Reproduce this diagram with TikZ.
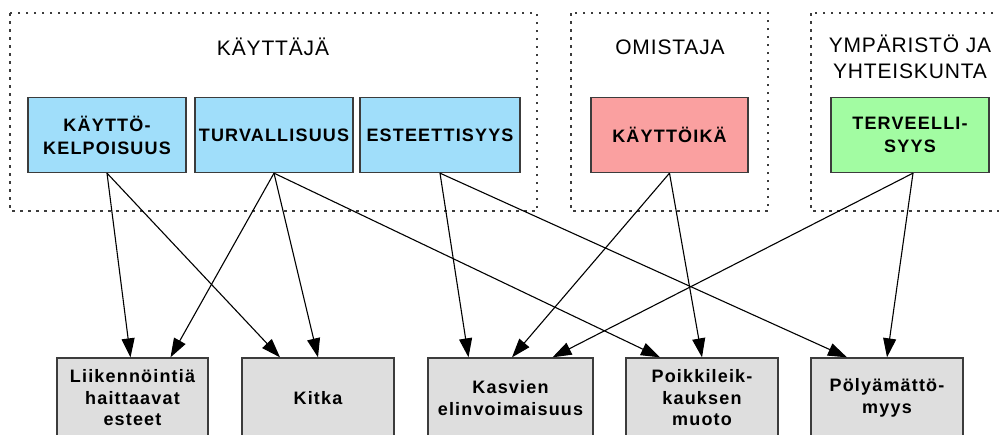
\documentclass[tikz,border=0pt]{standalone}
\usepackage{fontspec}
\setmainfont{Liberation Sans}
\newfontfamily\titlefont[LetterSpace=4]{Liberation Sans}
\newfontfamily\labelfont[LetterSpace=6.5]{Liberation Sans}
\usetikzlibrary{arrows.meta}
\definecolor{userblue}{RGB}{160,222,250}
\definecolor{ownerred}{RGB}{250,160,160}
\definecolor{envgreen}{RGB}{162,252,162}
\definecolor{boxgrey}{RGB}{222,222,222}
\definecolor{edgegrey}{RGB}{60,60,60}
\begin{document}
\begin{tikzpicture}[x=1pt,y=-1pt,
  grp/.style={draw=edgegrey, line width=1.2pt, dash pattern=on 2.5pt off 5.5pt},
  grptitle/.style={font=\titlefont\fontsize{21}{26}\selectfont, align=center, inner sep=0pt},
  topbox/.style={draw=edgegrey, line width=1.3pt, minimum width=158pt, minimum height=75pt,
    align=center, inner sep=0pt, font=\labelfont\fontsize{18}{23}\selectfont\bfseries},
  botbox/.style={draw=edgegrey, fill=boxgrey, line width=1.3pt, minimum width=152pt, minimum height=80pt,
    align=center, inner sep=0pt, font=\labelfont\fontsize{18}{21.5}\selectfont\bfseries},
  link/.style={-{Triangle[length=19pt,width=13pt]}, line width=1.1pt, draw=black}]
  \useasboundingbox (0,0) rectangle (999,434);
  \fill[white] (0,0) rectangle (999,434);

  % stakeholder groups
  \draw[grp] (10,13) rectangle (537,211);
  \draw[grp] (571,13) rectangle (768,211);
  \draw[grp] (811,13) rectangle (1012,211);
  \node[grptitle] (tUser) at (273,47) {KÄYTTÄJÄ};
  \node[grptitle] (tOwner) at (670,47) {OMISTAJA};
  \node[grptitle] (tEnv) at (910,57) {YMPÄRISTÖ JA\\YHTEISKUNTA};

  % requirements
  \node[topbox, fill=userblue] (k1) at (107,135) {KÄYTTÖ-\\KELPOISUUS};
  \node[topbox, fill=userblue] (k2) at (274,135) {TURVALLISUUS};
  \node[topbox, fill=userblue, minimum width=160pt] (k3) at (440,135) {ESTEETTISYYS};
  \node[topbox, fill=ownerred, minimum width=157pt] (o1) at (669.5,135) {KÄYTTÖIKÄ};
  \node[topbox, fill=envgreen] (y1) at (910,135) {TERVEELLI-\\SYYS};

  % properties
  \node[botbox, minimum width=151pt] (b1) at (132.5,398) {Liikennöintiä\\haittaavat\\esteet};
  \node[botbox] (b2) at (318,398) {Kitka};
  \node[botbox, minimum width=165pt] (b3) at (510.5,398) {Kasvien\\elinvoimaisuus};
  \node[botbox] (b4) at (702,398) {Poikkileik-\\kauksen\\muoto};
  \node[botbox] (b5) at (887,398) {Pölyämättö-\\myys};

  % dependencies
  \draw[link] (k1.south) -- ([xshift=-2pt]b1.north);
  \draw[link] (k1.south) -- ([xshift=-38pt]b2.north);
  \draw[link] (k2.south) -- ([xshift=38pt]b1.north);
  \draw[link] (k2.south) -- (b2.north);
  \draw[link] (k2.south) -- ([xshift=-42pt]b4.north);
  \draw[link] (k3.south) -- ([xshift=-42pt]b3.north);
  \draw[link] (k3.south) -- ([xshift=-40pt]b5.north);
  \draw[link] (o1.south) -- ([xshift=1.5pt]b3.north);
  \draw[link] (o1.south) -- (b4.north);
  \draw[link] ([xshift=3pt]y1.south) -- ([xshift=42pt]b3.north);
  \draw[link] ([xshift=3pt]y1.south) -- (b5.north);
\end{tikzpicture}
\end{document}
